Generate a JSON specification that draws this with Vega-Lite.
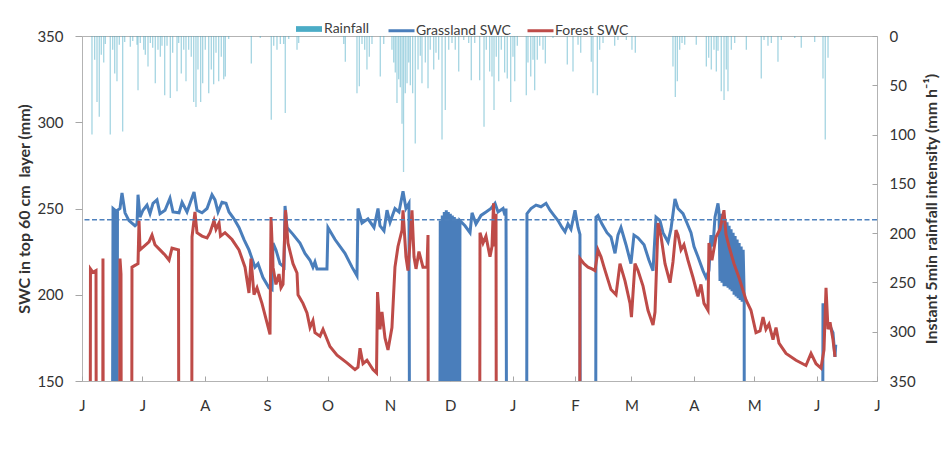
{
"$schema": "https://vega.github.io/schema/vega-lite/v6.json",
"width": 795, "height": 345,
"autosize": {"type": "none"},
"padding": {"left": 82, "top": 36, "right": 64, "bottom": 83},
"background": "white",
"config": {
  "font": "Lato",
  "view": {"stroke": "#b3b3b3", "strokeWidth": 1},
  "axis": {"grid": false, "domain": false, "labelFont": "Lato", "labelFontSize": 15, "labelColor": "#333333", "tickColor": "#a6a6a6", "titleFont": "Lato", "titleFontSize": 16, "titleFontWeight": "bold", "titleColor": "#333333"},
  "axisX": {"labelFlush": false},
  "legend": {"labelFont": "Lato", "labelFontSize": 14, "labelColor": "#404040"}
},
"datasets": {
"rain": [
{"t":"2013-06-05T23:00","r":100},{"t":"2013-06-07T07:00","r":24},{"t":"2013-06-08T11:00","r":67},{"t":"2013-06-09T14:00","r":82},{"t":"2013-06-10T14:00","r":19},{"t":"2013-06-11T19:00","r":27},{"t":"2013-06-12T14:00","r":8},{"t":"2013-06-15T01:00","r":100},{"t":"2013-06-16T06:00","r":14},{"t":"2013-06-17T06:00","r":38},{"t":"2013-06-18T09:00","r":46},{"t":"2013-06-19T13:00","r":9},{"t":"2013-06-21T05:00","r":97},{"t":"2013-06-22T05:00","r":6},{"t":"2013-06-25T00:00","r":11},{"t":"2013-06-26T05:00","r":5},{"t":"2013-06-28T08:00","r":9},{"t":"2013-06-28T20:00","r":55},{"t":"2013-06-29T23:00","r":7},
{"t":"2013-07-01T16:00","r":14},{"t":"2013-07-02T11:00","r":19},{"t":"2013-07-03T19:00","r":31},{"t":"2013-07-04T23:00","r":7},{"t":"2013-07-06T03:00","r":12},{"t":"2013-07-07T10:00","r":48},{"t":"2013-07-08T18:00","r":14},{"t":"2013-07-09T22:00","r":21},{"t":"2013-07-10T18:00","r":10},{"t":"2013-07-12T02:00","r":60},{"t":"2013-07-13T06:00","r":10},{"t":"2013-07-14T21:00","r":63},{"t":"2013-07-16T01:00","r":17},{"t":"2013-07-18T05:00","r":56},{"t":"2013-07-19T01:00","r":7},{"t":"2013-07-20T08:00","r":38},{"t":"2013-07-21T13:00","r":14},{"t":"2013-07-22T16:00","r":46},{"t":"2013-07-24T00:00","r":14},{"t":"2013-07-25T07:00","r":21},{"t":"2013-07-26T12:00","r":67},{"t":"2013-07-27T15:00","r":72},{"t":"2013-07-28T15:00","r":34},{"t":"2013-07-29T23:00","r":67},{"t":"2013-07-30T23:00","r":48},
{"t":"2013-08-01T06:00","r":14},{"t":"2013-08-02T23:00","r":58},{"t":"2013-08-04T06:00","r":34},{"t":"2013-08-05T10:00","r":49},{"t":"2013-08-06T14:00","r":17},{"t":"2013-08-07T22:00","r":46},{"t":"2013-08-09T05:00","r":21},{"t":"2013-08-10T10:00","r":44},{"t":"2013-08-11T05:00","r":41},{"t":"2013-08-12T21:00","r":3},{"t":"2013-08-24T03:00","r":28},{"t":"2013-08-28T14:00","r":2},
{"t":"2013-09-03T01:00","r":85},{"t":"2013-09-04T06:00","r":10},{"t":"2013-09-05T21:00","r":14},{"t":"2013-09-07T13:00","r":8},{"t":"2013-09-09T05:00","r":8},{"t":"2013-09-10T00:00","r":78},{"t":"2013-09-11T17:00","r":3},{"t":"2013-09-15T20:00","r":14},{"t":"2013-09-16T16:00","r":7},
{"t":"2013-10-09T01:00","r":8},{"t":"2013-10-09T20:00","r":26},{"t":"2013-10-15T15:00","r":58},{"t":"2013-10-16T19:00","r":51},{"t":"2013-10-18T03:00","r":8},{"t":"2013-10-19T11:00","r":14},{"t":"2013-10-20T14:00","r":34},{"t":"2013-10-21T18:00","r":21},{"t":"2013-10-23T02:00","r":8},{"t":"2013-10-27T05:00","r":41},{"t":"2013-10-28T22:00","r":8},
{"t":"2013-11-02T00:00","r":14},{"t":"2013-11-02T21:00","r":27},{"t":"2013-11-03T16:00","r":37},{"t":"2013-11-04T12:00","r":68},{"t":"2013-11-05T08:00","r":44},{"t":"2013-11-06T04:00","r":52},{"t":"2013-11-07T00:00","r":89},{"t":"2013-11-07T18:00","r":138},{"t":"2013-11-08T15:00","r":58},{"t":"2013-11-09T12:00","r":48},{"t":"2013-11-10T08:00","r":27},{"t":"2013-11-11T03:00","r":50},{"t":"2013-11-12T07:00","r":58},{"t":"2013-11-13T14:00","r":109},{"t":"2013-11-14T23:00","r":34},{"t":"2013-11-16T02:00","r":20},{"t":"2013-11-16T22:00","r":48},{"t":"2013-11-18T14:00","r":27},{"t":"2013-11-19T22:00","r":53},{"t":"2013-11-21T01:00","r":14},{"t":"2013-11-22T18:00","r":34},{"t":"2013-11-23T21:00","r":17},{"t":"2013-11-25T05:00","r":24},{"t":"2013-11-26T21:00","r":105},{"t":"2013-11-28T12:00","r":75},{"t":"2013-11-30T05:00","r":14},
{"t":"2013-12-01T20:00","r":7},{"t":"2013-12-03T11:00","r":14},{"t":"2013-12-05T04:00","r":36},{"t":"2013-12-07T16:00","r":4},{"t":"2013-12-10T03:00","r":7},{"t":"2013-12-11T10:00","r":45},{"t":"2013-12-13T03:00","r":7},{"t":"2013-12-15T14:00","r":45},{"t":"2013-12-17T18:00","r":92},{"t":"2013-12-18T21:00","r":14},{"t":"2013-12-20T13:00","r":36},{"t":"2013-12-21T17:00","r":41},{"t":"2013-12-22T17:00","r":75},{"t":"2013-12-23T20:00","r":21},{"t":"2013-12-25T01:00","r":46},{"t":"2013-12-26T08:00","r":14},{"t":"2013-12-28T00:00","r":37},{"t":"2013-12-29T07:00","r":43},{"t":"2013-12-31T00:00","r":67},
{"t":"2014-01-01T03:00","r":21},{"t":"2014-01-02T00:00","r":46},{"t":"2014-01-03T07:00","r":10},{"t":"2014-01-07T18:00","r":60},{"t":"2014-01-08T14:00","r":27},{"t":"2014-01-09T23:00","r":41},{"t":"2014-01-11T02:00","r":24},{"t":"2014-01-11T22:00","r":55},{"t":"2014-01-13T05:00","r":24},{"t":"2014-01-14T10:00","r":10},{"t":"2014-01-16T01:00","r":14},{"t":"2014-01-17T05:00","r":28},{"t":"2014-01-21T00:00","r":2},{"t":"2014-01-28T03:00","r":29},{"t":"2014-01-30T23:00","r":36},
{"t":"2014-02-02T11:00","r":9},{"t":"2014-02-03T19:00","r":17},{"t":"2014-02-09T01:00","r":26},{"t":"2014-02-09T21:00","r":58},{"t":"2014-02-12T01:00","r":60},{"t":"2014-02-13T05:00","r":14},{"t":"2014-02-14T21:00","r":7},{"t":"2014-02-20T16:00","r":10},{"t":"2014-02-22T07:00","r":4},{"t":"2014-02-26T11:00","r":4},
{"t":"2014-03-01T06:00","r":14},{"t":"2014-03-02T22:00","r":17},{"t":"2014-03-21T15:00","r":31},{"t":"2014-03-22T19:00","r":62},{"t":"2014-03-23T19:00","r":46},{"t":"2014-03-24T23:00","r":14},{"t":"2014-03-26T03:00","r":7},{"t":"2014-03-27T11:00","r":9},
{"t":"2014-04-02T05:00","r":9},{"t":"2014-04-07T05:00","r":31},{"t":"2014-04-08T09:00","r":22},{"t":"2014-04-09T16:00","r":34},{"t":"2014-04-11T00:00","r":14},{"t":"2014-04-12T04:00","r":36},{"t":"2014-04-13T00:00","r":15},{"t":"2014-04-14T15:00","r":56},{"t":"2014-04-16T00:00","r":65},{"t":"2014-04-17T03:00","r":34},{"t":"2014-04-17T23:00","r":56},{"t":"2014-04-19T15:00","r":14},{"t":"2014-04-21T07:00","r":7},{"t":"2014-04-27T02:00","r":14},
{"t":"2014-05-04T12:00","r":43},{"t":"2014-05-05T21:00","r":4},{"t":"2014-05-07T20:00","r":10},{"t":"2014-05-09T12:00","r":7},{"t":"2014-05-12T19:00","r":26},{"t":"2014-05-14T11:00","r":4},{"t":"2014-05-21T03:00","r":2},{"t":"2014-05-24T09:00","r":12},{"t":"2014-05-31T01:00","r":6},
{"t":"2014-06-04T04:00","r":43},{"t":"2014-06-05T07:00","r":105},{"t":"2014-06-06T16:00","r":22}
],
"swc": [
{"t":"2013-06-15T22:00","s":"Grassland SWC","v":0},{"t":"2013-06-16T10:00","s":"Grassland SWC","v":250},{"t":"2013-06-17T10:00","s":"Grassland SWC","v":249},{"t":"2013-06-17T15:00","s":"Grassland SWC","v":0},{"t":"2013-06-18T09:00","s":"Grassland SWC","v":0},{"t":"2013-06-18T15:00","s":"Grassland SWC","v":249},{"t":"2013-06-19T21:00","s":"Grassland SWC","v":250},{"t":"2013-06-20T21:00","s":"Grassland SWC","v":259},{"t":"2013-06-22T09:00","s":"Grassland SWC","v":247.5},{"t":"2013-06-24T08:00","s":"Grassland SWC","v":243},{"t":"2013-06-27T08:00","s":"Grassland SWC","v":240},{"t":"2013-06-28T08:00","s":"Grassland SWC","v":241},{"t":"2013-06-28T20:00","s":"Grassland SWC","v":258},{"t":"2013-06-29T20:00","s":"Grassland SWC","v":245},
{"t":"2013-07-01T07:00","s":"Grassland SWC","v":249},{"t":"2013-07-03T07:00","s":"Grassland SWC","v":252},{"t":"2013-07-04T19:00","s":"Grassland SWC","v":247},{"t":"2013-07-06T07:00","s":"Grassland SWC","v":253},{"t":"2013-07-08T06:00","s":"Grassland SWC","v":255},{"t":"2013-07-09T18:00","s":"Grassland SWC","v":247},{"t":"2013-07-12T06:00","s":"Grassland SWC","v":249},{"t":"2013-07-14T17:00","s":"Grassland SWC","v":256},{"t":"2013-07-16T05:00","s":"Grassland SWC","v":248},{"t":"2013-07-19T05:00","s":"Grassland SWC","v":247.5},{"t":"2013-07-20T17:00","s":"Grassland SWC","v":253.6},{"t":"2013-07-23T04:00","s":"Grassland SWC","v":248},{"t":"2013-07-26T16:00","s":"Grassland SWC","v":259.6},{"t":"2013-07-28T03:00","s":"Grassland SWC","v":249},{"t":"2013-07-30T15:00","s":"Grassland SWC","v":247.5},
{"t":"2013-08-02T03:00","s":"Grassland SWC","v":250},{"t":"2013-08-04T14:00","s":"Grassland SWC","v":258},{"t":"2013-08-06T02:00","s":"Grassland SWC","v":255},{"t":"2013-08-07T14:00","s":"Grassland SWC","v":248},{"t":"2013-08-09T13:00","s":"Grassland SWC","v":253.6},{"t":"2013-08-11T13:00","s":"Grassland SWC","v":253},{"t":"2013-08-13T01:00","s":"Grassland SWC","v":248},{"t":"2013-08-15T12:00","s":"Grassland SWC","v":244},{"t":"2013-08-18T00:00","s":"Grassland SWC","v":239},{"t":"2013-08-20T12:00","s":"Grassland SWC","v":232},{"t":"2013-08-22T23:00","s":"Grassland SWC","v":226},{"t":"2013-08-25T23:00","s":"Grassland SWC","v":216},{"t":"2013-08-27T11:00","s":"Grassland SWC","v":218},{"t":"2013-08-29T22:00","s":"Grassland SWC","v":210},
{"t":"2013-09-01T22:00","s":"Grassland SWC","v":204},{"t":"2013-09-03T10:00","s":"Grassland SWC","v":203},{"t":"2013-09-03T22:00","s":"Grassland SWC","v":230},{"t":"2013-09-05T09:00","s":"Grassland SWC","v":226},{"t":"2013-09-07T09:00","s":"Grassland SWC","v":218},{"t":"2013-09-09T09:00","s":"Grassland SWC","v":216},{"t":"2013-09-09T21:00","s":"Grassland SWC","v":251.5},{"t":"2013-09-10T20:00","s":"Grassland SWC","v":239},{"t":"2013-09-13T20:00","s":"Grassland SWC","v":235},{"t":"2013-09-17T07:00","s":"Grassland SWC","v":230},{"t":"2013-09-19T19:00","s":"Grassland SWC","v":224},{"t":"2013-09-22T07:00","s":"Grassland SWC","v":220},{"t":"2013-09-23T18:00","s":"Grassland SWC","v":216},{"t":"2013-09-24T18:00","s":"Grassland SWC","v":219},{"t":"2013-09-25T18:00","s":"Grassland SWC","v":215},{"t":"2013-09-30T17:00","s":"Grassland SWC","v":215},
{"t":"2013-10-01T05:00","s":"Grassland SWC","v":239},{"t":"2013-10-04T17:00","s":"Grassland SWC","v":232},{"t":"2013-10-09T16:00","s":"Grassland SWC","v":224},{"t":"2013-10-13T04:00","s":"Grassland SWC","v":216},{"t":"2013-10-15T15:00","s":"Grassland SWC","v":211},{"t":"2013-10-16T03:00","s":"Grassland SWC","v":250},{"t":"2013-10-18T03:00","s":"Grassland SWC","v":241.6},{"t":"2013-10-21T02:00","s":"Grassland SWC","v":244},{"t":"2013-10-24T02:00","s":"Grassland SWC","v":239},{"t":"2013-10-26T02:00","s":"Grassland SWC","v":250},{"t":"2013-10-27T01:00","s":"Grassland SWC","v":240},{"t":"2013-10-29T01:00","s":"Grassland SWC","v":237},{"t":"2013-10-30T13:00","s":"Grassland SWC","v":249},
{"t":"2013-11-01T01:00","s":"Grassland SWC","v":242},{"t":"2013-11-03T12:00","s":"Grassland SWC","v":250},{"t":"2013-11-05T12:00","s":"Grassland SWC","v":248},{"t":"2013-11-07T12:00","s":"Grassland SWC","v":260},{"t":"2013-11-08T23:00","s":"Grassland SWC","v":250},{"t":"2013-11-10T11:00","s":"Grassland SWC","v":253},{"t":"2013-11-10T23:00","s":"Grassland SWC","v":0},{"t":"2013-11-25T15:00","s":"Grassland SWC","v":0},
{"t":"2013-11-26T00:00","s":"Grassland SWC","v":243},{"t":"2013-11-26T12:00","s":"Grassland SWC","v":0},{"t":"2013-11-27T00:00","s":"Grassland SWC","v":246},{"t":"2013-11-27T12:00","s":"Grassland SWC","v":0},{"t":"2013-11-28T00:00","s":"Grassland SWC","v":248},{"t":"2013-11-28T12:00","s":"Grassland SWC","v":0},{"t":"2013-11-29T00:00","s":"Grassland SWC","v":249},{"t":"2013-11-29T12:00","s":"Grassland SWC","v":0},{"t":"2013-11-30T00:00","s":"Grassland SWC","v":248},{"t":"2013-11-30T12:00","s":"Grassland SWC","v":0},{"t":"2013-12-01T00:00","s":"Grassland SWC","v":247},{"t":"2013-12-01T12:00","s":"Grassland SWC","v":0},{"t":"2013-12-02T00:00","s":"Grassland SWC","v":246},{"t":"2013-12-02T12:00","s":"Grassland SWC","v":0},{"t":"2013-12-03T00:00","s":"Grassland SWC","v":245},{"t":"2013-12-03T12:00","s":"Grassland SWC","v":0},{"t":"2013-12-04T00:00","s":"Grassland SWC","v":244},{"t":"2013-12-04T12:00","s":"Grassland SWC","v":0},{"t":"2013-12-05T00:00","s":"Grassland SWC","v":244},{"t":"2013-12-05T12:00","s":"Grassland SWC","v":0},
{"t":"2013-12-05T19:00","s":"Grassland SWC","v":243},{"t":"2013-12-08T07:00","s":"Grassland SWC","v":240},{"t":"2013-12-10T19:00","s":"Grassland SWC","v":236},{"t":"2013-12-11T19:00","s":"Grassland SWC","v":247.5},{"t":"2013-12-13T18:00","s":"Grassland SWC","v":241},{"t":"2013-12-16T06:00","s":"Grassland SWC","v":246},{"t":"2013-12-18T18:00","s":"Grassland SWC","v":248},{"t":"2013-12-21T05:00","s":"Grassland SWC","v":250},{"t":"2013-12-23T05:00","s":"Grassland SWC","v":253},{"t":"2013-12-24T17:00","s":"Grassland SWC","v":248},{"t":"2013-12-27T05:00","s":"Grassland SWC","v":250},{"t":"2013-12-28T04:00","s":"Grassland SWC","v":246},{"t":"2013-12-28T16:00","s":"Grassland SWC","v":250},{"t":"2013-12-29T04:00","s":"Grassland SWC","v":0},
{"t":"2014-01-07T20:00","s":"Grassland SWC","v":0},{"t":"2014-01-08T02:00","s":"Grassland SWC","v":247},{"t":"2014-01-10T02:00","s":"Grassland SWC","v":250},{"t":"2014-01-12T14:00","s":"Grassland SWC","v":252},{"t":"2014-01-15T01:00","s":"Grassland SWC","v":251},{"t":"2014-01-17T13:00","s":"Grassland SWC","v":253},{"t":"2014-01-19T13:00","s":"Grassland SWC","v":249},{"t":"2014-01-21T12:00","s":"Grassland SWC","v":246},{"t":"2014-01-23T12:00","s":"Grassland SWC","v":243},{"t":"2014-01-25T12:00","s":"Grassland SWC","v":239},{"t":"2014-01-27T00:00","s":"Grassland SWC","v":236.5},{"t":"2014-01-28T11:00","s":"Grassland SWC","v":241},{"t":"2014-01-29T23:00","s":"Grassland SWC","v":238},{"t":"2014-01-31T23:00","s":"Grassland SWC","v":249},
{"t":"2014-02-02T11:00","s":"Grassland SWC","v":239},{"t":"2014-02-03T10:00","s":"Grassland SWC","v":235},{"t":"2014-02-03T16:00","s":"Grassland SWC","v":0},{"t":"2014-02-11T03:00","s":"Grassland SWC","v":0},{"t":"2014-02-11T09:00","s":"Grassland SWC","v":245},{"t":"2014-02-12T09:00","s":"Grassland SWC","v":246},{"t":"2014-02-14T09:00","s":"Grassland SWC","v":241},{"t":"2014-02-16T20:00","s":"Grassland SWC","v":236},{"t":"2014-02-18T20:00","s":"Grassland SWC","v":233.5},{"t":"2014-02-20T20:00","s":"Grassland SWC","v":224},{"t":"2014-02-22T07:00","s":"Grassland SWC","v":234.6},{"t":"2014-02-23T19:00","s":"Grassland SWC","v":239},{"t":"2014-02-26T07:00","s":"Grassland SWC","v":229},{"t":"2014-02-28T18:00","s":"Grassland SWC","v":218},
{"t":"2014-03-02T06:00","s":"Grassland SWC","v":234.6},{"t":"2014-03-04T06:00","s":"Grassland SWC","v":233},{"t":"2014-03-07T06:00","s":"Grassland SWC","v":229},{"t":"2014-03-09T17:00","s":"Grassland SWC","v":220},{"t":"2014-03-11T17:00","s":"Grassland SWC","v":214},{"t":"2014-03-13T05:00","s":"Grassland SWC","v":245},{"t":"2014-03-15T04:00","s":"Grassland SWC","v":243},{"t":"2014-03-16T16:00","s":"Grassland SWC","v":236},{"t":"2014-03-19T04:00","s":"Grassland SWC","v":230.6},{"t":"2014-03-20T15:00","s":"Grassland SWC","v":238},{"t":"2014-03-22T15:00","s":"Grassland SWC","v":255.5},{"t":"2014-03-24T03:00","s":"Grassland SWC","v":250},{"t":"2014-03-26T15:00","s":"Grassland SWC","v":247},{"t":"2014-03-28T14:00","s":"Grassland SWC","v":241.6},{"t":"2014-03-30T14:00","s":"Grassland SWC","v":236},
{"t":"2014-04-01T02:00","s":"Grassland SWC","v":228},{"t":"2014-04-03T01:00","s":"Grassland SWC","v":222},{"t":"2014-04-05T13:00","s":"Grassland SWC","v":214},{"t":"2014-04-07T01:00","s":"Grassland SWC","v":210},{"t":"2014-04-08T12:00","s":"Grassland SWC","v":214},{"t":"2014-04-09T12:00","s":"Grassland SWC","v":234.6},{"t":"2014-04-10T12:00","s":"Grassland SWC","v":228},{"t":"2014-04-11T12:00","s":"Grassland SWC","v":245},{"t":"2014-04-13T00:00","s":"Grassland SWC","v":253},
{"t":"2014-04-13T12:00","s":"Grassland SWC","v":248},{"t":"2014-04-14T00:00","s":"Grassland SWC","v":208},{"t":"2014-04-14T12:00","s":"Grassland SWC","v":247},{"t":"2014-04-15T00:00","s":"Grassland SWC","v":207},{"t":"2014-04-15T12:00","s":"Grassland SWC","v":246},{"t":"2014-04-16T00:00","s":"Grassland SWC","v":205},{"t":"2014-04-16T12:00","s":"Grassland SWC","v":244},{"t":"2014-04-17T00:00","s":"Grassland SWC","v":205},{"t":"2014-04-17T12:00","s":"Grassland SWC","v":242},{"t":"2014-04-18T00:00","s":"Grassland SWC","v":204},{"t":"2014-04-18T12:00","s":"Grassland SWC","v":240},{"t":"2014-04-19T00:00","s":"Grassland SWC","v":203},{"t":"2014-04-19T12:00","s":"Grassland SWC","v":238},{"t":"2014-04-20T00:00","s":"Grassland SWC","v":202},{"t":"2014-04-20T12:00","s":"Grassland SWC","v":236},{"t":"2014-04-21T00:00","s":"Grassland SWC","v":200},{"t":"2014-04-21T12:00","s":"Grassland SWC","v":234},{"t":"2014-04-22T00:00","s":"Grassland SWC","v":199},{"t":"2014-04-22T12:00","s":"Grassland SWC","v":232},{"t":"2014-04-23T00:00","s":"Grassland SWC","v":198},{"t":"2014-04-23T12:00","s":"Grassland SWC","v":230},{"t":"2014-04-24T00:00","s":"Grassland SWC","v":197},{"t":"2014-04-24T12:00","s":"Grassland SWC","v":228},{"t":"2014-04-25T00:00","s":"Grassland SWC","v":196},{"t":"2014-04-25T12:00","s":"Grassland SWC","v":226},{"t":"2014-04-26T00:00","s":"Grassland SWC","v":200},{"t":"2014-04-26T03:00","s":"Grassland SWC","v":0},
{"t":"2014-06-03T20:00","s":"Grassland SWC","v":0},{"t":"2014-06-04T04:00","s":"Grassland SWC","v":195},{"t":"2014-06-04T16:00","s":"Grassland SWC","v":190},{"t":"2014-06-05T16:00","s":"Grassland SWC","v":185},{"t":"2014-06-07T04:00","s":"Grassland SWC","v":183},{"t":"2014-06-09T03:00","s":"Grassland SWC","v":178},{"t":"2014-06-10T03:00","s":"Grassland SWC","v":164},{"t":"2014-06-10T12:00","s":"Grassland SWC","v":171},
{"t":"2013-06-04T23:00","s":"Forest SWC","v":0},{"t":"2013-06-05T05:00","s":"Forest SWC","v":215},{"t":"2013-06-06T11:00","s":"Forest SWC","v":213},{"t":"2013-06-07T23:00","s":"Forest SWC","v":214},{"t":"2013-06-08T05:00","s":"Forest SWC","v":0},{"t":"2013-06-11T05:00","s":"Forest SWC","v":0},{"t":"2013-06-11T10:00","s":"Forest SWC","v":221},{"t":"2013-06-11T16:00","s":"Forest SWC","v":0},{"t":"2013-06-19T15:00","s":"Forest SWC","v":0},{"t":"2013-06-19T21:00","s":"Forest SWC","v":221},{"t":"2013-06-20T09:00","s":"Forest SWC","v":212},{"t":"2013-06-20T15:00","s":"Forest SWC","v":0},{"t":"2013-06-25T14:00","s":"Forest SWC","v":0},{"t":"2013-06-25T20:00","s":"Forest SWC","v":216},{"t":"2013-06-27T08:00","s":"Forest SWC","v":217},{"t":"2013-06-28T20:00","s":"Forest SWC","v":218},{"t":"2013-06-29T08:00","s":"Forest SWC","v":243},{"t":"2013-06-29T20:00","s":"Forest SWC","v":226},
{"t":"2013-07-01T19:00","s":"Forest SWC","v":228},{"t":"2013-07-04T07:00","s":"Forest SWC","v":230.6},{"t":"2013-07-05T19:00","s":"Forest SWC","v":234.6},{"t":"2013-07-07T06:00","s":"Forest SWC","v":229},{"t":"2013-07-09T18:00","s":"Forest SWC","v":226},{"t":"2013-07-12T06:00","s":"Forest SWC","v":223},{"t":"2013-07-14T06:00","s":"Forest SWC","v":220},{"t":"2013-07-15T17:00","s":"Forest SWC","v":227},{"t":"2013-07-18T23:00","s":"Forest SWC","v":226},{"t":"2013-07-19T05:00","s":"Forest SWC","v":0},{"t":"2013-07-25T10:00","s":"Forest SWC","v":0},{"t":"2013-07-25T16:00","s":"Forest SWC","v":233.5},{"t":"2013-07-27T03:00","s":"Forest SWC","v":248},{"t":"2013-07-28T03:00","s":"Forest SWC","v":236},{"t":"2013-07-30T15:00","s":"Forest SWC","v":234},
{"t":"2013-08-02T03:00","s":"Forest SWC","v":233},{"t":"2013-08-03T14:00","s":"Forest SWC","v":236},{"t":"2013-08-05T14:00","s":"Forest SWC","v":243},{"t":"2013-08-06T14:00","s":"Forest SWC","v":238},{"t":"2013-08-08T02:00","s":"Forest SWC","v":241.6},{"t":"2013-08-08T20:00","s":"Forest SWC","v":234},{"t":"2013-08-11T01:00","s":"Forest SWC","v":236},{"t":"2013-08-14T13:00","s":"Forest SWC","v":232},{"t":"2013-08-18T00:00","s":"Forest SWC","v":226},{"t":"2013-08-21T00:00","s":"Forest SWC","v":216},{"t":"2013-08-22T23:00","s":"Forest SWC","v":201},{"t":"2013-08-23T23:00","s":"Forest SWC","v":221},{"t":"2013-08-25T11:00","s":"Forest SWC","v":200},{"t":"2013-08-26T23:00","s":"Forest SWC","v":204},{"t":"2013-08-29T10:00","s":"Forest SWC","v":195},{"t":"2013-08-31T10:00","s":"Forest SWC","v":186},
{"t":"2013-09-02T10:00","s":"Forest SWC","v":177},{"t":"2013-09-02T22:00","s":"Forest SWC","v":245},{"t":"2013-09-03T22:00","s":"Forest SWC","v":216},{"t":"2013-09-05T09:00","s":"Forest SWC","v":206},{"t":"2013-09-06T21:00","s":"Forest SWC","v":212},{"t":"2013-09-07T21:00","s":"Forest SWC","v":204},{"t":"2013-09-08T21:00","s":"Forest SWC","v":206},{"t":"2013-09-10T03:00","s":"Forest SWC","v":249},{"t":"2013-09-11T08:00","s":"Forest SWC","v":230},{"t":"2013-09-13T20:00","s":"Forest SWC","v":218},{"t":"2013-09-15T20:00","s":"Forest SWC","v":212.6},{"t":"2013-09-16T08:00","s":"Forest SWC","v":200},{"t":"2013-09-18T19:00","s":"Forest SWC","v":195},{"t":"2013-09-20T19:00","s":"Forest SWC","v":189.5},{"t":"2013-09-22T07:00","s":"Forest SWC","v":181},{"t":"2013-09-23T18:00","s":"Forest SWC","v":185},{"t":"2013-09-24T18:00","s":"Forest SWC","v":178},{"t":"2013-09-27T06:00","s":"Forest SWC","v":176},{"t":"2013-09-28T18:00","s":"Forest SWC","v":180},
{"t":"2013-10-02T05:00","s":"Forest SWC","v":170},{"t":"2013-10-05T17:00","s":"Forest SWC","v":165},{"t":"2013-10-10T16:00","s":"Forest SWC","v":160.5},{"t":"2013-10-14T15:00","s":"Forest SWC","v":156.6},{"t":"2013-10-16T03:00","s":"Forest SWC","v":158},{"t":"2013-10-17T03:00","s":"Forest SWC","v":169},{"t":"2013-10-18T15:00","s":"Forest SWC","v":160},{"t":"2013-10-20T14:00","s":"Forest SWC","v":162},{"t":"2013-10-23T14:00","s":"Forest SWC","v":156.6},{"t":"2013-10-25T08:00","s":"Forest SWC","v":154.6},{"t":"2013-10-25T20:00","s":"Forest SWC","v":201.6},{"t":"2013-10-27T01:00","s":"Forest SWC","v":180},{"t":"2013-10-28T01:00","s":"Forest SWC","v":190},{"t":"2013-10-29T13:00","s":"Forest SWC","v":175},{"t":"2013-10-31T01:00","s":"Forest SWC","v":168},
{"t":"2013-11-02T00:00","s":"Forest SWC","v":181},{"t":"2013-11-03T12:00","s":"Forest SWC","v":216},{"t":"2013-11-05T00:00","s":"Forest SWC","v":228},{"t":"2013-11-07T00:00","s":"Forest SWC","v":237.5},{"t":"2013-11-07T12:00","s":"Forest SWC","v":249},{"t":"2013-11-08T23:00","s":"Forest SWC","v":222},{"t":"2013-11-09T23:00","s":"Forest SWC","v":214},{"t":"2013-11-10T23:00","s":"Forest SWC","v":230},{"t":"2013-11-11T23:00","s":"Forest SWC","v":249},{"t":"2013-11-12T23:00","s":"Forest SWC","v":222},{"t":"2013-11-13T23:00","s":"Forest SWC","v":215},{"t":"2013-11-15T10:00","s":"Forest SWC","v":225},{"t":"2013-11-17T10:00","s":"Forest SWC","v":216},{"t":"2013-11-19T10:00","s":"Forest SWC","v":216},{"t":"2013-11-19T22:00","s":"Forest SWC","v":234.6},{"t":"2013-11-20T04:00","s":"Forest SWC","v":0},
{"t":"2013-12-15T12:00","s":"Forest SWC","v":0},{"t":"2013-12-15T18:00","s":"Forest SWC","v":236},{"t":"2013-12-17T06:00","s":"Forest SWC","v":230},{"t":"2013-12-18T17:00","s":"Forest SWC","v":234},{"t":"2013-12-20T17:00","s":"Forest SWC","v":222},{"t":"2013-12-21T17:00","s":"Forest SWC","v":228},{"t":"2013-12-22T11:00","s":"Forest SWC","v":253},{"t":"2013-12-22T23:00","s":"Forest SWC","v":228},{"t":"2013-12-23T17:00","s":"Forest SWC","v":247},{"t":"2013-12-23T23:00","s":"Forest SWC","v":0},
{"t":"2014-02-03T04:00","s":"Forest SWC","v":0},{"t":"2014-02-03T10:00","s":"Forest SWC","v":221},{"t":"2014-02-05T10:00","s":"Forest SWC","v":218},{"t":"2014-02-07T10:00","s":"Forest SWC","v":216},{"t":"2014-02-09T09:00","s":"Forest SWC","v":215},{"t":"2014-02-10T21:00","s":"Forest SWC","v":214},{"t":"2014-02-12T09:00","s":"Forest SWC","v":226},{"t":"2014-02-13T21:00","s":"Forest SWC","v":222},{"t":"2014-02-15T09:00","s":"Forest SWC","v":216},{"t":"2014-02-17T08:00","s":"Forest SWC","v":208.6},{"t":"2014-02-18T20:00","s":"Forest SWC","v":203},{"t":"2014-02-21T08:00","s":"Forest SWC","v":200},{"t":"2014-02-23T07:00","s":"Forest SWC","v":218},{"t":"2014-02-25T19:00","s":"Forest SWC","v":208},{"t":"2014-02-28T07:00","s":"Forest SWC","v":195},
{"t":"2014-03-01T00:00","s":"Forest SWC","v":187},{"t":"2014-03-02T18:00","s":"Forest SWC","v":218},{"t":"2014-03-04T06:00","s":"Forest SWC","v":214},{"t":"2014-03-06T18:00","s":"Forest SWC","v":205},{"t":"2014-03-09T05:00","s":"Forest SWC","v":191},{"t":"2014-03-11T17:00","s":"Forest SWC","v":182.5},{"t":"2014-03-12T17:00","s":"Forest SWC","v":190},{"t":"2014-03-14T05:00","s":"Forest SWC","v":241.6},{"t":"2014-03-15T16:00","s":"Forest SWC","v":234},{"t":"2014-03-17T16:00","s":"Forest SWC","v":218},{"t":"2014-03-20T04:00","s":"Forest SWC","v":207},{"t":"2014-03-21T15:00","s":"Forest SWC","v":219},{"t":"2014-03-23T03:00","s":"Forest SWC","v":237.5},{"t":"2014-03-24T03:00","s":"Forest SWC","v":234.6},{"t":"2014-03-25T15:00","s":"Forest SWC","v":226},{"t":"2014-03-27T02:00","s":"Forest SWC","v":229},{"t":"2014-03-29T02:00","s":"Forest SWC","v":220},{"t":"2014-03-31T14:00","s":"Forest SWC","v":210},
{"t":"2014-04-03T01:00","s":"Forest SWC","v":199},{"t":"2014-04-04T13:00","s":"Forest SWC","v":206},{"t":"2014-04-06T01:00","s":"Forest SWC","v":195},{"t":"2014-04-08T01:00","s":"Forest SWC","v":191},{"t":"2014-04-08T12:00","s":"Forest SWC","v":230},{"t":"2014-04-10T00:00","s":"Forest SWC","v":220},{"t":"2014-04-12T00:00","s":"Forest SWC","v":233.5},{"t":"2014-04-14T00:00","s":"Forest SWC","v":238},{"t":"2014-04-15T23:00","s":"Forest SWC","v":249},{"t":"2014-04-16T23:00","s":"Forest SWC","v":235},{"t":"2014-04-18T11:00","s":"Forest SWC","v":228},{"t":"2014-04-20T23:00","s":"Forest SWC","v":218},{"t":"2014-04-23T10:00","s":"Forest SWC","v":210},{"t":"2014-04-26T22:00","s":"Forest SWC","v":197},{"t":"2014-04-29T09:00","s":"Forest SWC","v":191},
{"t":"2014-05-01T21:00","s":"Forest SWC","v":178},{"t":"2014-05-03T21:00","s":"Forest SWC","v":179},{"t":"2014-05-05T09:00","s":"Forest SWC","v":187},{"t":"2014-05-06T20:00","s":"Forest SWC","v":180},{"t":"2014-05-08T08:00","s":"Forest SWC","v":183},{"t":"2014-05-10T08:00","s":"Forest SWC","v":174},{"t":"2014-05-11T20:00","s":"Forest SWC","v":181},{"t":"2014-05-13T07:00","s":"Forest SWC","v":172},{"t":"2014-05-16T19:00","s":"Forest SWC","v":166},{"t":"2014-05-21T18:00","s":"Forest SWC","v":162},{"t":"2014-05-26T17:00","s":"Forest SWC","v":159},{"t":"2014-05-29T05:00","s":"Forest SWC","v":166},{"t":"2014-05-31T17:00","s":"Forest SWC","v":160},
{"t":"2014-06-03T04:00","s":"Forest SWC","v":157.5},{"t":"2014-06-04T16:00","s":"Forest SWC","v":168},{"t":"2014-06-05T16:00","s":"Forest SWC","v":204},{"t":"2014-06-06T16:00","s":"Forest SWC","v":180},{"t":"2014-06-07T16:00","s":"Forest SWC","v":184},{"t":"2014-06-09T03:00","s":"Forest SWC","v":174},{"t":"2014-06-10T03:00","s":"Forest SWC","v":164}
]
},
"layer": [
  {
    "data": {"name": "rain"},
    "mark": {"type": "bar", "width": 1.3, "opacity": 0.5},
    "encoding": {
      "x": {"field": "t", "type": "temporal",
        "scale": {"domain": [{"year": 2013, "month": 6, "date": 1}, {"year": 2014, "month": 7, "date": 1}], "nice": false, "padding": 0},
        "axis": {"title": null, "tickCount": {"interval": "month", "step": 1}, "format": "%b", "labelExpr": "slice(datum.label, 0, 1)", "tickSize": -5, "labelPadding": 22, "labelAngle": 0, "labelOverlap": false, "labelFlush": false, "labelAlign": "center"}},
      "y": {"field": "r", "type": "quantitative",
        "scale": {"domain": [0, 350], "reverse": true, "nice": false, "padding": 0},
        "axis": {"orient": "right", "title": "Instant 5min rainfall intensity (mm h⁻¹)", "values": [0, 50, 100, 150, 200, 250, 300, 350], "tickSize": -5, "labelPadding": 17, "titleAngle": 270, "titleBaseline": "top", "titlePadding": 8}},
      "fill": {"datum": "Rainfall", "scale": {"domain": ["Rainfall"], "range": ["#4bacc6"]},
        "legend": {"orient": "none", "legendX": 214, "legendY": -20, "title": null, "symbolType": "M-1,-0.22H1V0.22H-1Z", "symbolSize": 676, "symbolOpacity": 1, "symbolStrokeWidth": 0, "labelOffset": 2}}
    }
  },
  {
    "layer": [
      {
        "data": {"name": "swc"},
        "mark": {"type": "line", "strokeWidth": 3, "clip": true},
        "encoding": {
          "x": {"field": "t", "type": "temporal",
            "scale": {"domain": [{"year": 2013, "month": 6, "date": 1}, {"year": 2014, "month": 7, "date": 1}], "nice": false, "padding": 0},
            "axis": {"title": null, "tickCount": {"interval": "month", "step": 1}, "format": "%b", "labelExpr": "slice(datum.label, 0, 1)", "tickSize": -5, "labelPadding": 22, "labelAngle": 0, "labelOverlap": false, "labelFlush": false, "labelAlign": "center"}},
          "y": {"field": "v", "type": "quantitative",
            "scale": {"domain": [150, 350], "nice": false},
            "axis": {"orient": "left", "title": "SWC in top 60 cm\u00a0 layer (mm)", "values": [150, 200, 250, 300, 350], "tickSize": 7, "labelPadding": 12, "titlePadding": 4}},
          "stroke": {"field": "s", "type": "nominal",
            "scale": {"domain": ["Grassland SWC", "Forest SWC"], "range": ["#4a7ebb", "#be4b48"]},
            "legend": {"orient": "none", "legendX": 305, "legendY": -20, "direction": "horizontal", "title": null, "symbolType": "stroke", "symbolSize": 676, "symbolStrokeWidth": 3, "labelOffset": 0, "columnPadding": 10}}
        }
      },
      {
        "data": {"values": [{}]},
        "mark": {"type": "rule", "strokeDash": [5, 2.5], "strokeWidth": 1.5, "color": "#4f81bd"},
        "encoding": {"y": {"datum": 243.5, "type": "quantitative"}}
      }
    ]
  }
],
"resolve": {"scale": {"y": "independent"}, "axis": {"y": "independent"}}
}
